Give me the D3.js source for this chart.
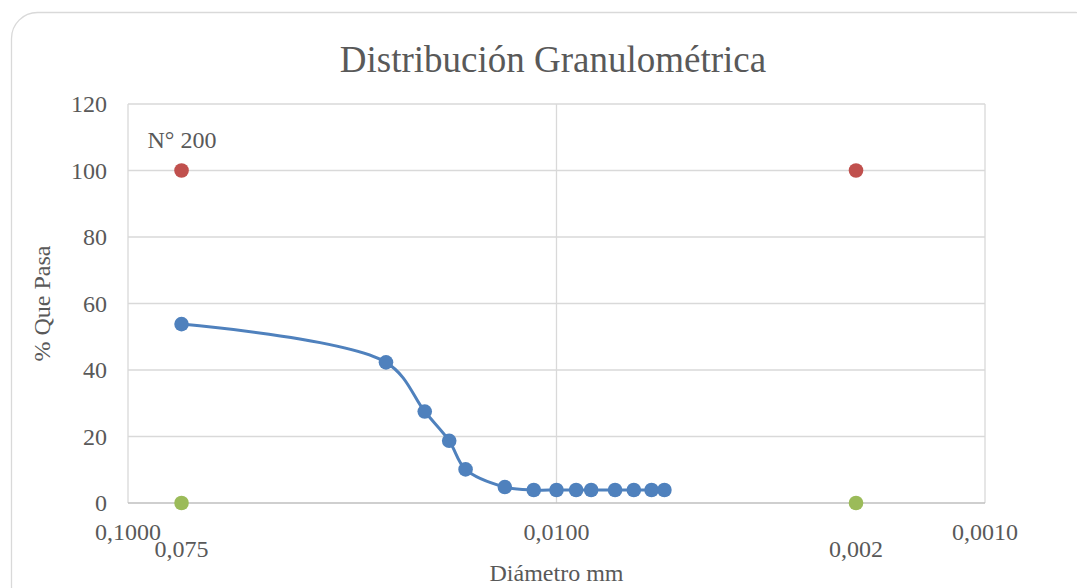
<!DOCTYPE html>
<html>
<head>
<meta charset="utf-8">
<script src="https://cdn.jsdelivr.net/npm/d3@7"></script>
<style>
  body { margin: 0; background: #fff; }
  text { font-family: "Liberation Serif", "Times New Roman", serif; fill: #595959; }
</style>
</head>
<body>
<div id="chart"></div>
<script>
// sieve / hydrometer data
const diametros = [0.075, 0.025, 0.0203, 0.0178, 0.0163, 0.0132, 0.0113, 0.0100, 0.0090, 0.0083, 0.0073, 0.0066, 0.0060, 0.0056]
const pasa = [53.8, 42.3, 27.5, 18.7, 10.1, 4.8, 3.9, 3.9, 3.9, 3.9, 3.9, 3.9, 3.9, 3.9]

// limit markers (N° 200 and 0,002 mm)
const limites = [0.075, 0.002]
const limiteArriba = [100, 100]
const limiteAbajo = [0, 0]
const limiteEtiquetas = ["0,075", "0,002"]

const xTicks = [0.1, 0.01, 0.001]
const yTicks = [0, 20, 40, 60, 80, 100, 120]

const W = 1077, H = 588
const margin = { top: 104, right: 92, bottom: 85, left: 128 }
const fs = 24

const svg = d3.select("#chart").append("svg")
    .attr("width", W)
    .attr("height", H)

// chart frame
svg.append("rect")
    .attr("x", 11.5).attr("y", 12.5)
    .attr("width", 1090).attr("height", 600)
    .attr("rx", 26)
    .attr("fill", "#fff")
    .attr("stroke", "#d9d9d9")
    .attr("stroke-width", 1.3)

const x = d3.scaleLog()
    .domain([0.1, 0.001])
    .range([margin.left, W - margin.right])

const y = d3.scaleLinear()
    .domain([0, 120])
    .range([H - margin.bottom, margin.top])

const fmtX = d => d3.format(".4f")(d).replace(".", ",")

// grid
const grid = svg.append("g")
grid.selectAll(".hg")
    .data(yTicks.filter(d => d > 0))
    .join("line")
    .attr("x1", x(0.1)).attr("x2", x(0.001))
    .attr("y1", d => y(d)).attr("y2", d => y(d))
    .attr("stroke", "#d9d9d9").attr("stroke-width", 1.3)

grid.selectAll(".vg")
    .data(xTicks)
    .join("line")
    .attr("x1", d => x(d)).attr("x2", d => x(d))
    .attr("y1", y(0)).attr("y2", y(120))
    .attr("stroke", "#d9d9d9").attr("stroke-width", 1.3)

// x axis line
svg.append("line")
    .attr("x1", x(0.1)).attr("x2", x(0.001))
    .attr("y1", y(0)).attr("y2", y(0))
    .attr("stroke", "#bfbfbf").attr("stroke-width", 1.3)

// y tick labels
svg.append("g").selectAll("text")
    .data(yTicks)
    .join("text")
    .attr("x", margin.left - 21)
    .attr("y", d => y(d) + 8)
    .attr("text-anchor", "end")
    .attr("font-size", fs)
    .text(d => d)

// x tick labels
svg.append("g").selectAll("text")
    .data(xTicks)
    .join("text")
    .attr("x", d => x(d))
    .attr("y", y(0) + 37)
    .attr("text-anchor", "middle")
    .attr("font-size", fs)
    .text(fmtX)

// smooth curve
const line = d3.line()
    .x(d => x(d[0]))
    .y(d => y(d[1]))
    .curve(d3.curveCatmullRom.alpha(0.5))

const pts = diametros.map((d, i) => [d, pasa[i]])

svg.append("path")
    .datum(pts)
    .attr("d", line)
    .attr("fill", "none")
    .attr("stroke", "#4f81bd")
    .attr("stroke-width", 3)

svg.append("g").selectAll("circle")
    .data(pts)
    .join("circle")
    .attr("cx", d => x(d[0]))
    .attr("cy", d => y(d[1]))
    .attr("r", 7.3)
    .attr("fill", "#4f81bd")

// limit markers
svg.append("g").selectAll("circle")
    .data(limites)
    .join("circle")
    .attr("cx", d => x(d))
    .attr("cy", (d, i) => y(limiteArriba[i]))
    .attr("r", 7.3)
    .attr("fill", "#c0504d")

svg.append("g").selectAll("circle")
    .data(limites)
    .join("circle")
    .attr("cx", d => x(d))
    .attr("cy", (d, i) => y(limiteAbajo[i]))
    .attr("r", 7.3)
    .attr("fill", "#9bbb59")

svg.append("g").selectAll("text")
    .data(limites)
    .join("text")
    .attr("x", d => x(d))
    .attr("y", (d, i) => y(limiteAbajo[i]) + 54)
    .attr("text-anchor", "middle")
    .attr("font-size", fs)
    .text((d, i) => limiteEtiquetas[i])

svg.append("text")
    .attr("x", x(limites[0]) - 34)
    .attr("y", y(limiteArriba[0]) - 23)
    .attr("font-size", fs)
    .text("N° 200")

// titles
svg.append("text")
    .attr("x", 553)
    .attr("y", 72)
    .attr("text-anchor", "middle")
    .attr("font-size", 37)
    .text("Distribución Granulométrica")

svg.append("text")
    .attr("x", (x(0.1) + x(0.001)) / 2)
    .attr("y", 581)
    .attr("text-anchor", "middle")
    .attr("font-size", fs)
    .text("Diámetro mm")

svg.append("text")
    .attr("transform", `translate(50, ${(y(0) + y(120)) / 2}) rotate(-90)`)
    .attr("text-anchor", "middle")
    .attr("font-size", fs)
    .text("% Que Pasa")
</script>
</body>
</html>
